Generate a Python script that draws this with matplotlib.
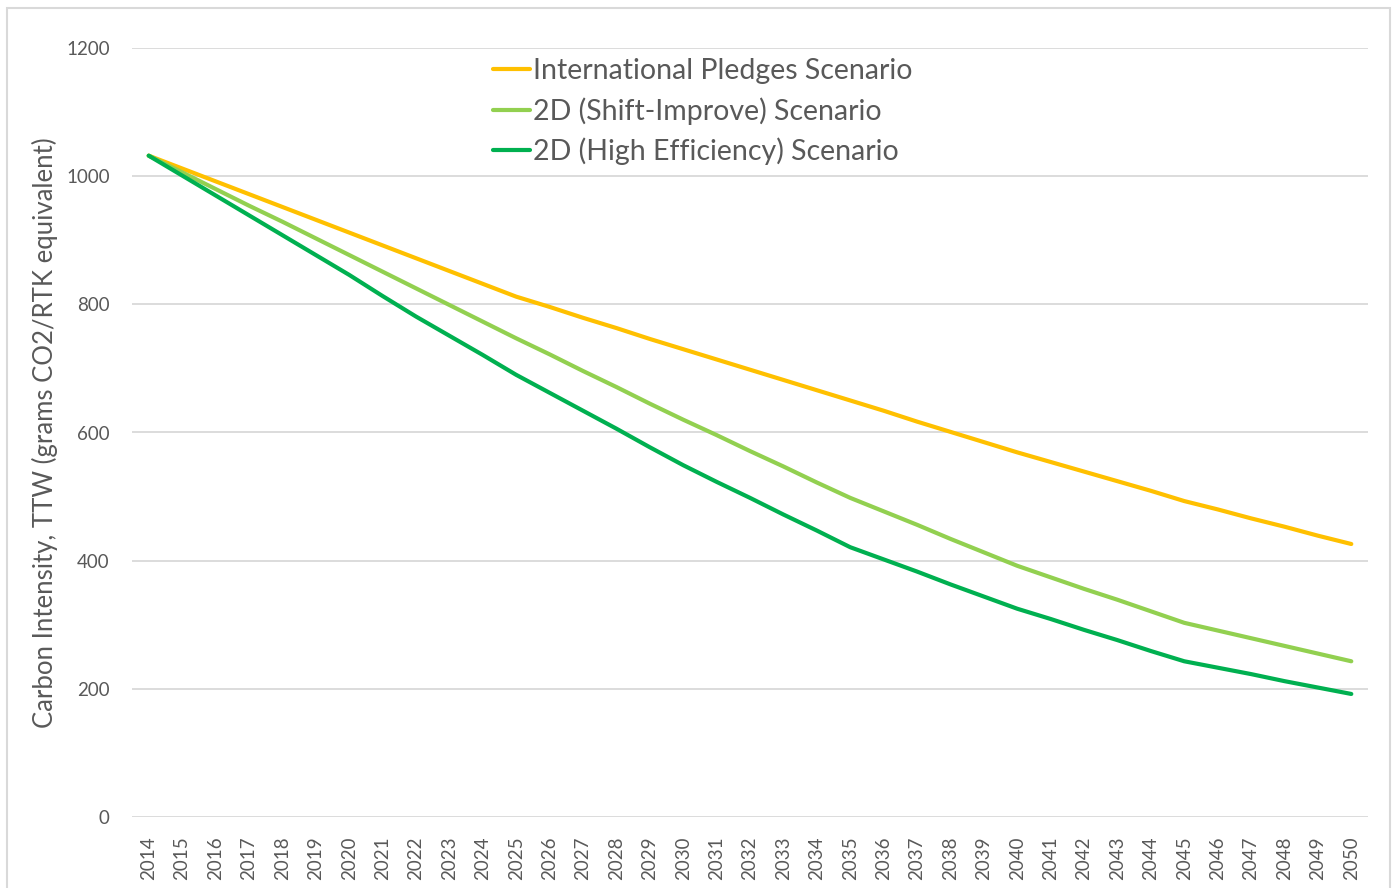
import matplotlib
matplotlib.use("Agg")
import matplotlib.pyplot as plt
from matplotlib.patches import Rectangle

years = [str(y) for y in range(2014, 2051)]

pledges = [1032, 1012, 992, 972, 952, 932, 912, 892, 872, 852, 832, 812,
           796, 779, 763, 746, 730, 714, 698, 682, 666, 650, 634, 617, 601,
           585, 569, 554, 539, 524, 509, 493, 480, 466, 453, 439, 426]
shift_improve = [1032, 1006, 980, 954, 929, 903, 877, 851, 825, 799, 773, 747,
                 722, 696, 671, 645, 620, 596, 571, 547, 522, 498, 477, 456,
                 434, 413, 392, 374, 356, 339, 321, 303, 291, 279, 267, 255, 243]
high_eff = [1032, 1001, 970, 939, 908, 877, 846, 813, 781, 751, 721, 690,
            662, 634, 606, 577, 549, 523, 498, 472, 447, 421, 402, 383, 363,
            344, 325, 309, 292, 276, 259, 243, 233, 223, 212, 202, 192]

labels = ["International Pledges Scenario", "2D (Shift-Improve) Scenario",
          "2D (High Efficiency) Scenario"]
colors = ["#FFC000", "#92D050", "#00B050"]

plt.rcParams['font.family'] = ['Lato', 'DejaVu Sans']
txt = "#595959"

fig = plt.figure(figsize=(13.96, 8.88), dpi=100)
fig.patches.append(Rectangle((7/1396, -0.05), 1383/1396, 1.05 - 8/888,
                             transform=fig.transFigure, fill=False,
                             edgecolor="#d9d9d9", lw=1.5))
ax = fig.add_axes([132/1396, 1 - 817/888, 1236/1396, 769/888])

x = range(len(years))
for vals, lab, col in zip([pledges, shift_improve, high_eff], labels, colors):
    ax.plot(x, vals, color=col, lw=3.0, label=lab, solid_capstyle='round')

ax.set_xlim(-0.5, len(years) - 0.5)
ax.set_ylim(0, 1200)
ax.set_yticks(range(0, 1201, 200))
ax.set_xticks(list(x))
ax.set_xticklabels(years, rotation=90, fontsize=13.5, color=txt)
ax.tick_params(axis='y', labelsize=13.5, labelcolor=txt, length=0, pad=16)
ax.tick_params(axis='x', length=0, pad=14)
ax.grid(axis='y', color="#d9d9d9", lw=1.3)
ax.set_axisbelow(True)
for s in ax.spines.values():
    s.set_visible(False)

ax.set_ylabel("Carbon Intensity, TTW (grams CO2/RTK equivalent)",
              fontsize=18.5, color=txt, labelpad=6)

leg = ax.legend(loc='upper left', bbox_to_anchor=(0.292, 0.987), frameon=False,
                fontsize=20.5, handlelength=1.3, handletextpad=0.1,
                labelspacing=0.46, borderpad=0, borderaxespad=0)
for t in leg.get_texts():
    t.set_color(txt)

fig.savefig("out.png", dpi=100)
